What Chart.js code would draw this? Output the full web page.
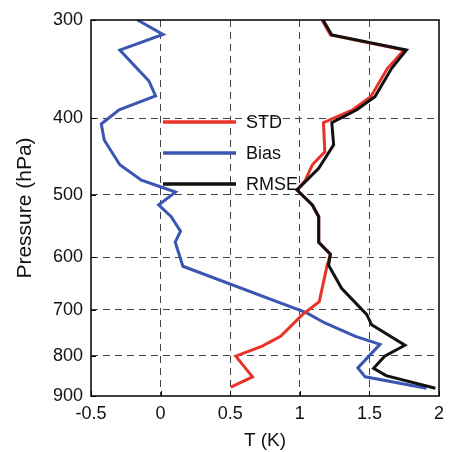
<!DOCTYPE html>
<html lang="en">
<head>
<meta charset="UTF-8">
<title>Temperature error profile</title>
<style>
  html, body { margin: 0; padding: 0; background: #fff; }
</style>
</head>
<body>
<canvas id="profileChart" width="451" height="452"></canvas>

<script src="https://cdn.jsdelivr.net/npm/chart.js"></script>
<script>
// values (pressure in hPa, T in K)
const stdP  = [300, 313.4, 327.5, 345.5, 375.4, 390, 405, 441, 458, 479, 493, 515, 533, 574.5, 594.7, 616, 683, 710, 756, 778, 801, 851, 877];
const stdT  = [1.16, 1.22, 1.75, 1.63, 1.51, 1.38, 1.17, 1.18, 1.09, 1.04, 0.98, 1.09, 1.136, 1.136, 1.22, 1.195, 1.14, 1.017, 0.862, 0.73, 0.54, 0.66, 0.505];

const biasP = [300, 313, 327.5, 358.5, 374.6, 390, 406.5, 426, 458, 479, 488, 496, 515, 533, 556, 574, 616, 706, 727, 756, 774, 829, 851, 880];
const biasT = [-0.166, 0.017, -0.293, -0.084, -0.036, -0.298, -0.426, -0.405, -0.293, -0.138, -0.007, 0.107, -0.014, 0.076, 0.143, 0.105, 0.16, 1.05, 1.18, 1.40, 1.576, 1.417, 1.47, 1.91];

const rmseP = [300, 313.4, 327.5, 345.5, 375.4, 390, 405, 432, 462.7, 493, 515, 533, 574.5, 594.7, 614, 657, 709, 731, 776, 801, 830, 848, 880];
const rmseT = [1.167, 1.23, 1.766, 1.66, 1.54, 1.41, 1.23, 1.243, 1.136, 0.98, 1.09, 1.136, 1.136, 1.22, 1.207, 1.30, 1.48, 1.516, 1.755, 1.61, 1.53, 1.62, 1.974];

const xTicks = [-0.5, 0, 0.5, 1, 1.5, 2];
const yTicks = [300, 400, 500, 600, 700, 800, 900];

const FONT = "'Liberation Sans', Arial, sans-serif";

const toPoints = (p, t) => p.map((v, i) => ({ x: t[i], y: v }));

// legend + box frame + inward ticks, drawn by hand since the legend sits inside the plot
const frameAndLegend = {
    id: 'frameAndLegend',
    afterDraw(chart) {
        const { ctx, chartArea: a, scales } = chart;
        ctx.save();
        ctx.strokeStyle = '#000';
        ctx.lineWidth = 1;
        xTicks.forEach(v => {
            const px = Math.round(scales.x.getPixelForValue(v)) + 0.5;
            ctx.beginPath(); ctx.moveTo(px, a.bottom); ctx.lineTo(px, a.bottom - 5); ctx.stroke();
        });
        yTicks.forEach(v => {
            const py = Math.round(scales.y.getPixelForValue(v)) + 0.5;
            ctx.beginPath(); ctx.moveTo(a.left, py); ctx.lineTo(a.left + 5, py); ctx.stroke();
        });
        ctx.lineWidth = 1.5;
        ctx.strokeRect(a.left, a.top, a.right - a.left, a.bottom - a.top);

        // legend
        const x0 = a.left + 72, x1 = a.left + 145, tx = a.left + 155;
        ctx.font = '18px ' + FONT;
        ctx.textBaseline = 'middle';
        ctx.fillStyle = '#111';
        chart.data.datasets.forEach((ds, i) => {
            const y = a.top + 102 + i * 31;
            ctx.strokeStyle = ds.borderColor;
            ctx.lineWidth = 3.5;
            ctx.beginPath(); ctx.moveTo(x0, y); ctx.lineTo(x1, y); ctx.stroke();
            ctx.fillText(ds.label, tx, y + 1);
        });
        ctx.restore();
    }
};

const dashed = (edges) => ({
    color: ctx => edges.includes(ctx.tick && ctx.tick.value) ? 'rgba(0,0,0,0)' : '#444',
    lineWidth: 1,
    drawTicks: false
});

new Chart(document.getElementById('profileChart'), {
    type: 'scatter',
    data: {
        datasets: [
            { label: 'STD',  data: toPoints(stdP, stdT),   borderColor: '#e8322a', order: 1 },
            { label: 'Bias', data: toPoints(biasP, biasT), borderColor: '#3b55b3', order: 2 },
            { label: 'RMSE', data: toPoints(rmseP, rmseT), borderColor: '#111111', order: 0 }
        ]
    },
    options: {
        responsive: false,
        devicePixelRatio: 1,
        animation: false,
        showLine: true,
        layout: { padding: { top: 20, right: 9, left: 0, bottom: 0 } },
        elements: {
            point: { radius: 0 },
            line: { borderWidth: 3, tension: 0, borderJoinStyle: 'miter' }
        },
        plugins: {
            legend: { display: false },
            tooltip: { enabled: false }
        },
        scales: {
            x: {
                type: 'linear',
                min: -0.5,
                max: 2,
                afterBuildTicks: s => { s.ticks = xTicks.map(v => ({ value: v })); },
                afterFit: s => { s.height = 56; },
                ticks: { color: '#111', font: { family: FONT, size: 18 }, padding: 7, callback: v => String(v) },
                grid: dashed([-0.5, 2]),
                border: { display: false, dash: [7, 5] },
                title: { display: true, text: 'T (K)', color: '#111', font: { family: FONT, size: 19 }, padding: { top: 0, bottom: 0 } }
            },
            y: {
                type: 'logarithmic',
                reverse: true,
                min: 300,
                max: 900,
                afterBuildTicks: s => { s.ticks = yTicks.map(v => ({ value: v })); },
                afterFit: s => { s.width = 91; },
                ticks: { color: '#111', font: { family: FONT, size: 18 }, padding: 8, callback: v => String(v) },
                grid: dashed([300, 900]),
                border: { display: false, dash: [7, 5] },
                title: { display: true, text: 'Pressure (hPa)', color: '#111', font: { family: FONT, size: 21 }, padding: { top: 13, bottom: 0 } }
            }
        }
    },
    plugins: [frameAndLegend]
});
</script>
</body>
</html>
